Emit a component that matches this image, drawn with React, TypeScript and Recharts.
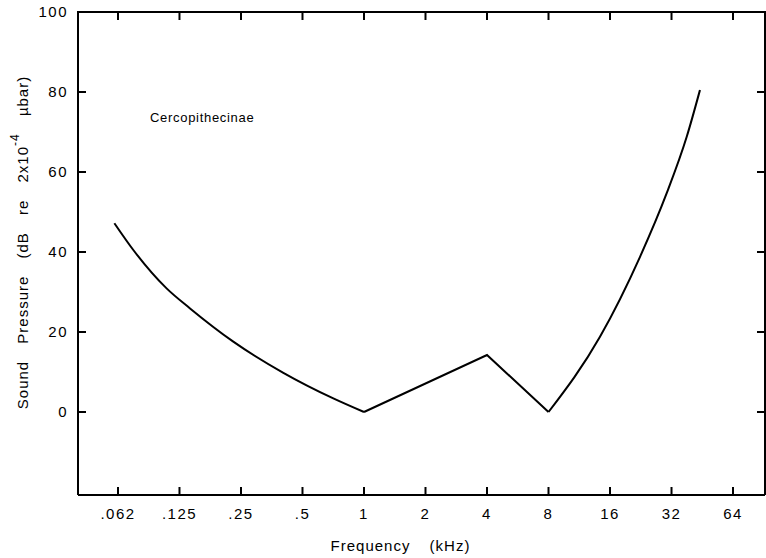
import {
  Label,
  Line,
  LineChart,
  ReferenceDot,
  XAxis,
  YAxis,
} from "recharts";

// frequency in kHz (plotted on a log2 axis) and threshold in dB
const lowFreqKHz = [0.06, 0.0743, 0.1081, 0.1408, 0.2292, 0.403, 0.7077, 1];
const lowDb = [47.2, 40.5, 30.9, 25.9, 17.6, 9.8, 3.4, 0];

const midFreqKHz = [1, 4, 8];
const midDb = [0, 14.25, 0];

const highFreqKHz = [8, 14.29, 22.44, 30.31, 37.98, 44.1];
const highDb = [0, 18.8, 38.8, 54.7, 68.8, 80.5];

const xTickFreqs = [0.0625, 0.125, 0.25, 0.5, 1, 2, 4, 8, 16, 32, 64];
const xTickLabels = [".062", ".125", ".25", ".5", "1", "2", "4", "8", "16", "32", "64"];
const yTicks = [0, 20, 40, 60, 80, 100];

const toRows = (fs: number[], ds: number[]) =>
  fs.map((f, i) => ({ lf: Math.log2(f), db: ds[i] }));
const lowData = toRows(lowFreqKHz, lowDb);
const midData = toRows(midFreqKHz, midDb);
const highData = toRows(highFreqKHz, highDb);
const xTicks = xTickFreqs.map((f) => Math.log2(f));

const FONT = "'Liberation Sans', Arial, sans-serif";
const X_DOMAIN: [number, number] = [-4.65, 6.52];
const Y_DOMAIN: [number, number] = [-20.75, 100];

// chart layout
const W = 766;
const H = 558;
const MARGIN = { top: 12, right: 1, bottom: 13, left: 18 };
const Y_AXIS_W = 60;
const X_AXIS_H = 50;
const PLOT_W = W - MARGIN.left - MARGIN.right - Y_AXIS_W;
const PLOT_H = H - MARGIN.top - MARGIN.bottom - X_AXIS_H;
const TICK = 8;

function xLabel(v: number) {
  const i = xTicks.findIndex((t) => Math.abs(t - v) < 1e-6);
  return i >= 0 ? xTickLabels[i] : "";
}

// bottom label + inward ticks on the bottom and the top of the frame
function BottomTick(props: any) {
  const { x, y, payload } = props;
  const top = y - PLOT_H;
  return (
    <g>
      <line x1={x} y1={y} x2={x} y2={y - TICK} stroke="#000" strokeWidth={2} />
      <line x1={x} y1={top} x2={x} y2={top + TICK} stroke="#000" strokeWidth={2} />
      <text
        x={x}
        y={y + 24}
        textAnchor="middle"
        fontSize={15}
        letterSpacing={1.5}
        fontFamily={FONT}
        fill="#000"
      >
        {xLabel(payload.value)}
      </text>
    </g>
  );
}

// left label + inward ticks on the left and right; top tick closes the frame
function LeftTick(props: any) {
  const { x, y, payload } = props;
  const right = x + PLOT_W;
  const isTop = payload.value === Y_DOMAIN[1];
  return (
    <g>
      <line x1={x} y1={y} x2={x + TICK} y2={y} stroke="#000" strokeWidth={2} />
      <line x1={right} y1={y} x2={right - TICK} y2={y} stroke="#000" strokeWidth={2} />
      {isTop && (
        <>
          <line x1={x - 1} y1={y} x2={right + 1} y2={y} stroke="#000" strokeWidth={2} />
          <line x1={right} y1={y} x2={right} y2={y + PLOT_H} stroke="#000" strokeWidth={2} />
        </>
      )}
      <text
        x={x - 10}
        y={y}
        dy={5}
        textAnchor="end"
        fontSize={15}
        letterSpacing={1.5}
        fontFamily={FONT}
        fill="#000"
      >
        {payload.value}
      </text>
    </g>
  );
}

function YTitle(props: any) {
  const { viewBox } = props;
  const cx = 22;
  const cy = viewBox.y + viewBox.height / 2 - 11;
  return (
    <text
      x={cx}
      y={cy}
      transform={`rotate(-90 ${cx} ${cy})`}
      textAnchor="middle"
      dominantBaseline="central"
      fontSize={15}
      letterSpacing={1}
      wordSpacing={12}
      fontFamily={FONT}
      fill="#000"
    >
      Sound Pressure (dB re 2x10
      <tspan dy={-7} fontSize={12}>
        -4
      </tspan>
      <tspan dy={7}> µbar)</tspan>
    </text>
  );
}

function XTitle(props: any) {
  const { viewBox } = props;
  const cx = viewBox.x + viewBox.width / 2 - 21;
  return (
    <text
      x={cx}
      y={viewBox.y + 56}
      textAnchor="middle"
      fontSize={15}
      letterSpacing={1}
      wordSpacing={14}
      fontFamily={FONT}
      fill="#000"
    >
      Frequency (kHz)
    </text>
  );
}

export default function App() {
  return (
    <div style={{ position: "absolute", left: 0, top: 0, background: "#fff" }}>
      <LineChart width={W} height={H} margin={MARGIN}>
        <XAxis
          dataKey="lf"
          type="number"
          domain={X_DOMAIN}
          ticks={xTicks}
          allowDataOverflow
          height={X_AXIS_H}
          tickLine={false}
          tickSize={0}
          tickMargin={0}
          tick={<BottomTick />}
          axisLine={{ stroke: "#000", strokeWidth: 2 }}
        >
          <Label content={<XTitle />} />
        </XAxis>
        <YAxis
          type="number"
          domain={Y_DOMAIN}
          ticks={yTicks}
          allowDataOverflow
          width={Y_AXIS_W}
          tickLine={false}
          tickSize={0}
          tickMargin={0}
          tick={<LeftTick />}
          axisLine={{ stroke: "#000", strokeWidth: 2 }}
        >
          <Label content={<YTitle />} />
        </YAxis>
        <ReferenceDot
          x={-3.48}
          y={73.75}
          r={0}
          fill="none"
          stroke="none"
          label={{
            value: "Cercopithecinae",
            position: "right",
            offset: 0,
            fontSize: 13,
            letterSpacing: 0.7,
            fontFamily: FONT,
            fill: "#000",
          }}
        />
        <Line
          data={lowData}
          dataKey="db"
          type="monotone"
          stroke="#000"
          strokeWidth={2}
          dot={false}
          isAnimationActive={false}
        />
        <Line
          data={midData}
          dataKey="db"
          type="linear"
          stroke="#000"
          strokeWidth={2}
          dot={false}
          isAnimationActive={false}
        />
        <Line
          data={highData}
          dataKey="db"
          type="monotone"
          stroke="#000"
          strokeWidth={2}
          dot={false}
          isAnimationActive={false}
        />
      </LineChart>
    </div>
  );
}
